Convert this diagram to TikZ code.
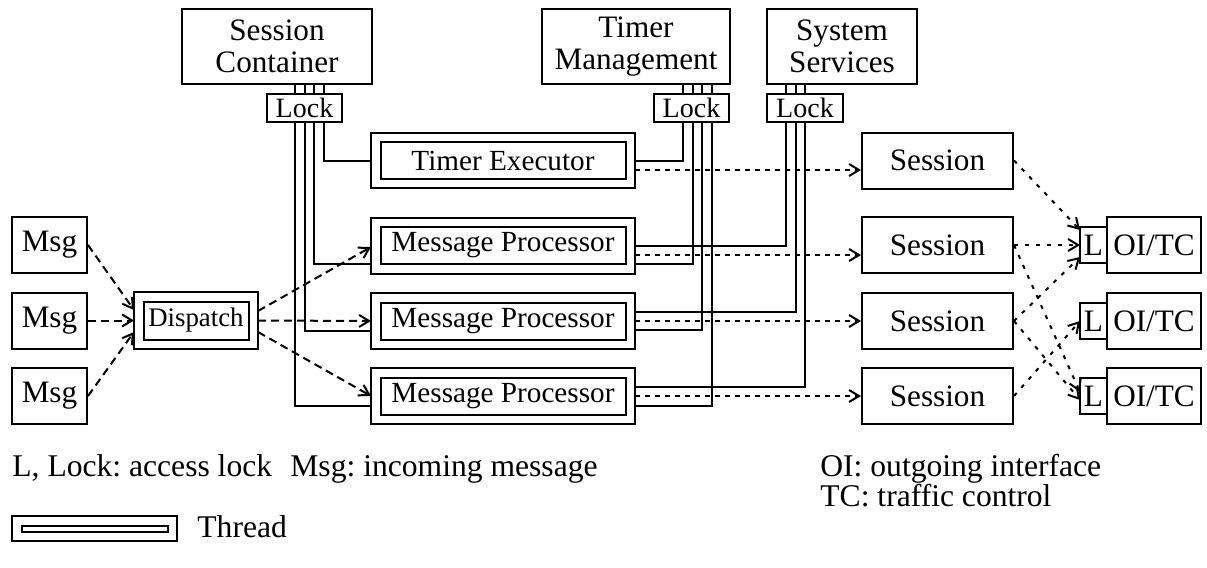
\documentclass[tikz,border=0pt]{standalone}
\usepackage{fontspec}
\setmainfont{Liberation Serif}
\usetikzlibrary{calc,arrows.meta}
\frenchspacing
\begin{document}
\begin{tikzpicture}[x=0.5pt,y=-0.5pt,
  box/.style={draw,line width=1pt,inner sep=0pt,align=center,font=\fontsize{15.6}{16}\selectfont},
  lockbox/.style={box,font=\fontsize{14}{14}\selectfont},
  thread/.style={draw,line width=1pt,double,double distance=3.75pt,inner sep=0pt,
    outer sep=2.375pt,align=center,font=\fontsize{14.6}{15}\selectfont},
  link/.style={line width=1pt},
  tip/.style={-{Straight Barb[length=5pt,width=6pt]}},
  msgflow/.style={line width=1pt,tip,dash pattern=on 4pt off 2.5pt},
  sessflow/.style={line width=1pt,tip,dash pattern=on 2.5pt off 2.5pt},
  lockflow/.style={line width=1pt,tip,dash pattern=on 2pt off 3.5pt},
  legend/.style={inner sep=0pt,anchor=base west,font=\fontsize{15.8}{16}\selectfont}
]
\useasboundingbox (0,0) rectangle (1207,568);

% shared resources and their locks
\node[box,minimum width=95pt,minimum height=37.5pt] (sc) at (277,46.5) {Session\\Container};
\node[box,minimum width=94pt,minimum height=37.5pt] (tm) at (636,46.5) {Timer\\Management};
\node[box,minimum width=75pt,minimum height=37.5pt] (ss) at (842,46.5) {System\\Services};
\node[lockbox,minimum width=37.5pt,minimum height=14pt] (scl) at (304.5,108) {Lock};
\node[lockbox,minimum width=37.5pt,minimum height=14pt] (tml) at (691.5,108) {Lock};
\node[lockbox,minimum width=38pt,minimum height=14pt] (ssl) at (805,108) {Lock};

% threads
\node[thread,minimum width=127.25pt,minimum height=23pt] (te) at (503,160.5) {Timer Executor};
\node[thread,minimum width=127.25pt,minimum height=23.25pt] (mp1) at (503,245.5) {Message Processor};
\node[thread,minimum width=127.25pt,minimum height=23.25pt] (mp2) at (503,321) {Message Processor};
\node[thread,minimum width=127.25pt,minimum height=23.25pt] (mp3) at (503,396) {Message Processor};
\node[thread,minimum width=57.25pt,minimum height=23.75pt,font=\fontsize{13.4}{14}\selectfont] (disp) at (196,320.5) {Dispatch};

% incoming messages
\node[box,minimum width=37.5pt,minimum height=28pt] (m1) at (49.5,245) {Msg};
\node[box,minimum width=37.5pt,minimum height=28pt] (m2) at (49.5,320.5) {Msg};
\node[box,minimum width=37.5pt,minimum height=28pt] (m3) at (49.5,396) {Msg};

% sessions
\node[box,minimum width=75.5pt,minimum height=28pt] (s1) at (937.5,160.5) {Session};
\node[box,minimum width=75.5pt,minimum height=28pt] (s2) at (937.5,245) {Session};
\node[box,minimum width=75.5pt,minimum height=28pt] (s3) at (937.5,321) {Session};
\node[box,minimum width=75.5pt,minimum height=28pt] (s4) at (937.5,396) {Session};

% outgoing interfaces with their locks
\node[box,minimum width=47pt,minimum height=28pt] (o1) at (1154,245) {OI/TC};
\node[box,minimum width=47pt,minimum height=28pt] (o2) at (1154,321) {OI/TC};
\node[box,minimum width=47pt,minimum height=28pt] (o3) at (1154,396) {OI/TC};
\node[box,outer sep=0pt,anchor=east,minimum width=13.5pt,minimum height=18pt] (l1) at ([xshift=0.5pt]o1.west) {L};
\node[box,outer sep=0pt,anchor=east,minimum width=13.5pt,minimum height=18pt] (l2) at ([xshift=0.5pt]o2.west) {L};
\node[box,outer sep=0pt,anchor=east,minimum width=13.5pt,minimum height=18pt] (l3) at ([xshift=0.5pt]o3.west) {L};

% session container access
\foreach \dx/\lx in {18/-9.5,27.5/0,37/9.5,46.5/19}
  \draw[link] ($(sc.south)+(\dx,0)$) -- ($(scl.north)+(\lx,0)$);
\draw[link] ($(scl.south)+(19,0)$) |- (te.west);
\draw[link] ($(scl.south)+(9.5,0)$) |- ($(mp1.west)+(0,18.5)$);
\draw[link] ($(scl.south)+(0,0)$) |- ($(mp2.west)+(0,10)$);
\draw[link] ($(scl.south)+(-9.5,0)$) |- ($(mp3.west)+(0,10)$);

% timer management access
\foreach \dx/\lx in {47/-8.5,56.5/1,66/10.5,75.5/20}
  \draw[link] ($(tm.south)+(\dx,0)$) -- ($(tml.north)+(\lx,0)$);
\draw[link] ($(tml.south)+(-8.5,0)$) |- (te.east);
\draw[link] ($(tml.south)+(1,0)$) |- ($(mp1.east)+(0,18.5)$);
\draw[link] ($(tml.south)+(10.5,0)$) |- ($(mp2.east)+(0,9)$);
\draw[link] ($(tml.south)+(20,0)$) |- ($(mp3.east)+(0,10)$);

% system services access
\foreach \dx/\lx in {-56/-19,-46.5/-9.5,-37/0}
  \draw[link] ($(ss.south)+(\dx,0)$) -- ($(ssl.north)+(\lx,0)$);
\draw[link] ($(ssl.south)+(-19,0)$) |- (mp1.east);
\draw[link] ($(ssl.south)+(-9.5,0)$) |- ($(mp2.east)+(0,-9)$);
\draw[link] ($(ssl.south)+(0,0)$) |- ($(mp3.east)+(0,-9)$);

% message flow
\draw[msgflow] (m1.east) -- ($(disp.west)+(0,-10.5)$);
\draw[msgflow] (m2.east) -- (disp.west);
\draw[msgflow] (m3.east) -- ($(disp.west)+(0,11.5)$);
\draw[msgflow] ($(disp.east)+(0,-9.5)$) -- ($(mp1.west)+(0,1.5)$);
\draw[msgflow] (disp.east) -- (mp2.west);
\draw[msgflow] ($(disp.east)+(0,11.5)$) -- (mp3.west);

% threads to sessions
\draw[sessflow] ($(te.east)+(0,9.5)$) -- ($(s1.west)+(0,9.5)$);
\draw[sessflow] ($(mp1.east)+(0,9.5)$) -- ($(s2.west)+(0,10)$);
\draw[sessflow] (mp2.east) -- (s3.west);
\draw[sessflow] (mp3.east) -- (s4.west);

% sessions to outgoing interfaces
\draw[lockflow] (s1.east) -- ($(l1.west)+(0,-15)$);
\draw[lockflow] (s2.east) -- (l1.west);
\draw[lockflow] (s3.east) -- ($(l1.west)+(0,12)$);
\draw[lockflow] (s2.east) -- ($(l3.west)+(0,-4)$);
\draw[lockflow] (s3.east) -- ($(l3.west)+(0,4)$);
\draw[lockflow] (s4.east) -- (l2.west);

% legend
\node[legend] (k1) at (12,476) {L, Lock: access lock};
\node[legend] (k2) at (290,476) {Msg: incoming message};
\node[legend] (k3) at (820,476) {OI: outgoing interface};
\node[legend] (k4) at (820,506) {TC: traffic control};
\node[thread,minimum width=77.75pt,minimum height=7.75pt] (kt) at (94.5,528.5) {};
\node[legend] (k5) at (197,537) {Thread};
\end{tikzpicture}
\end{document}
